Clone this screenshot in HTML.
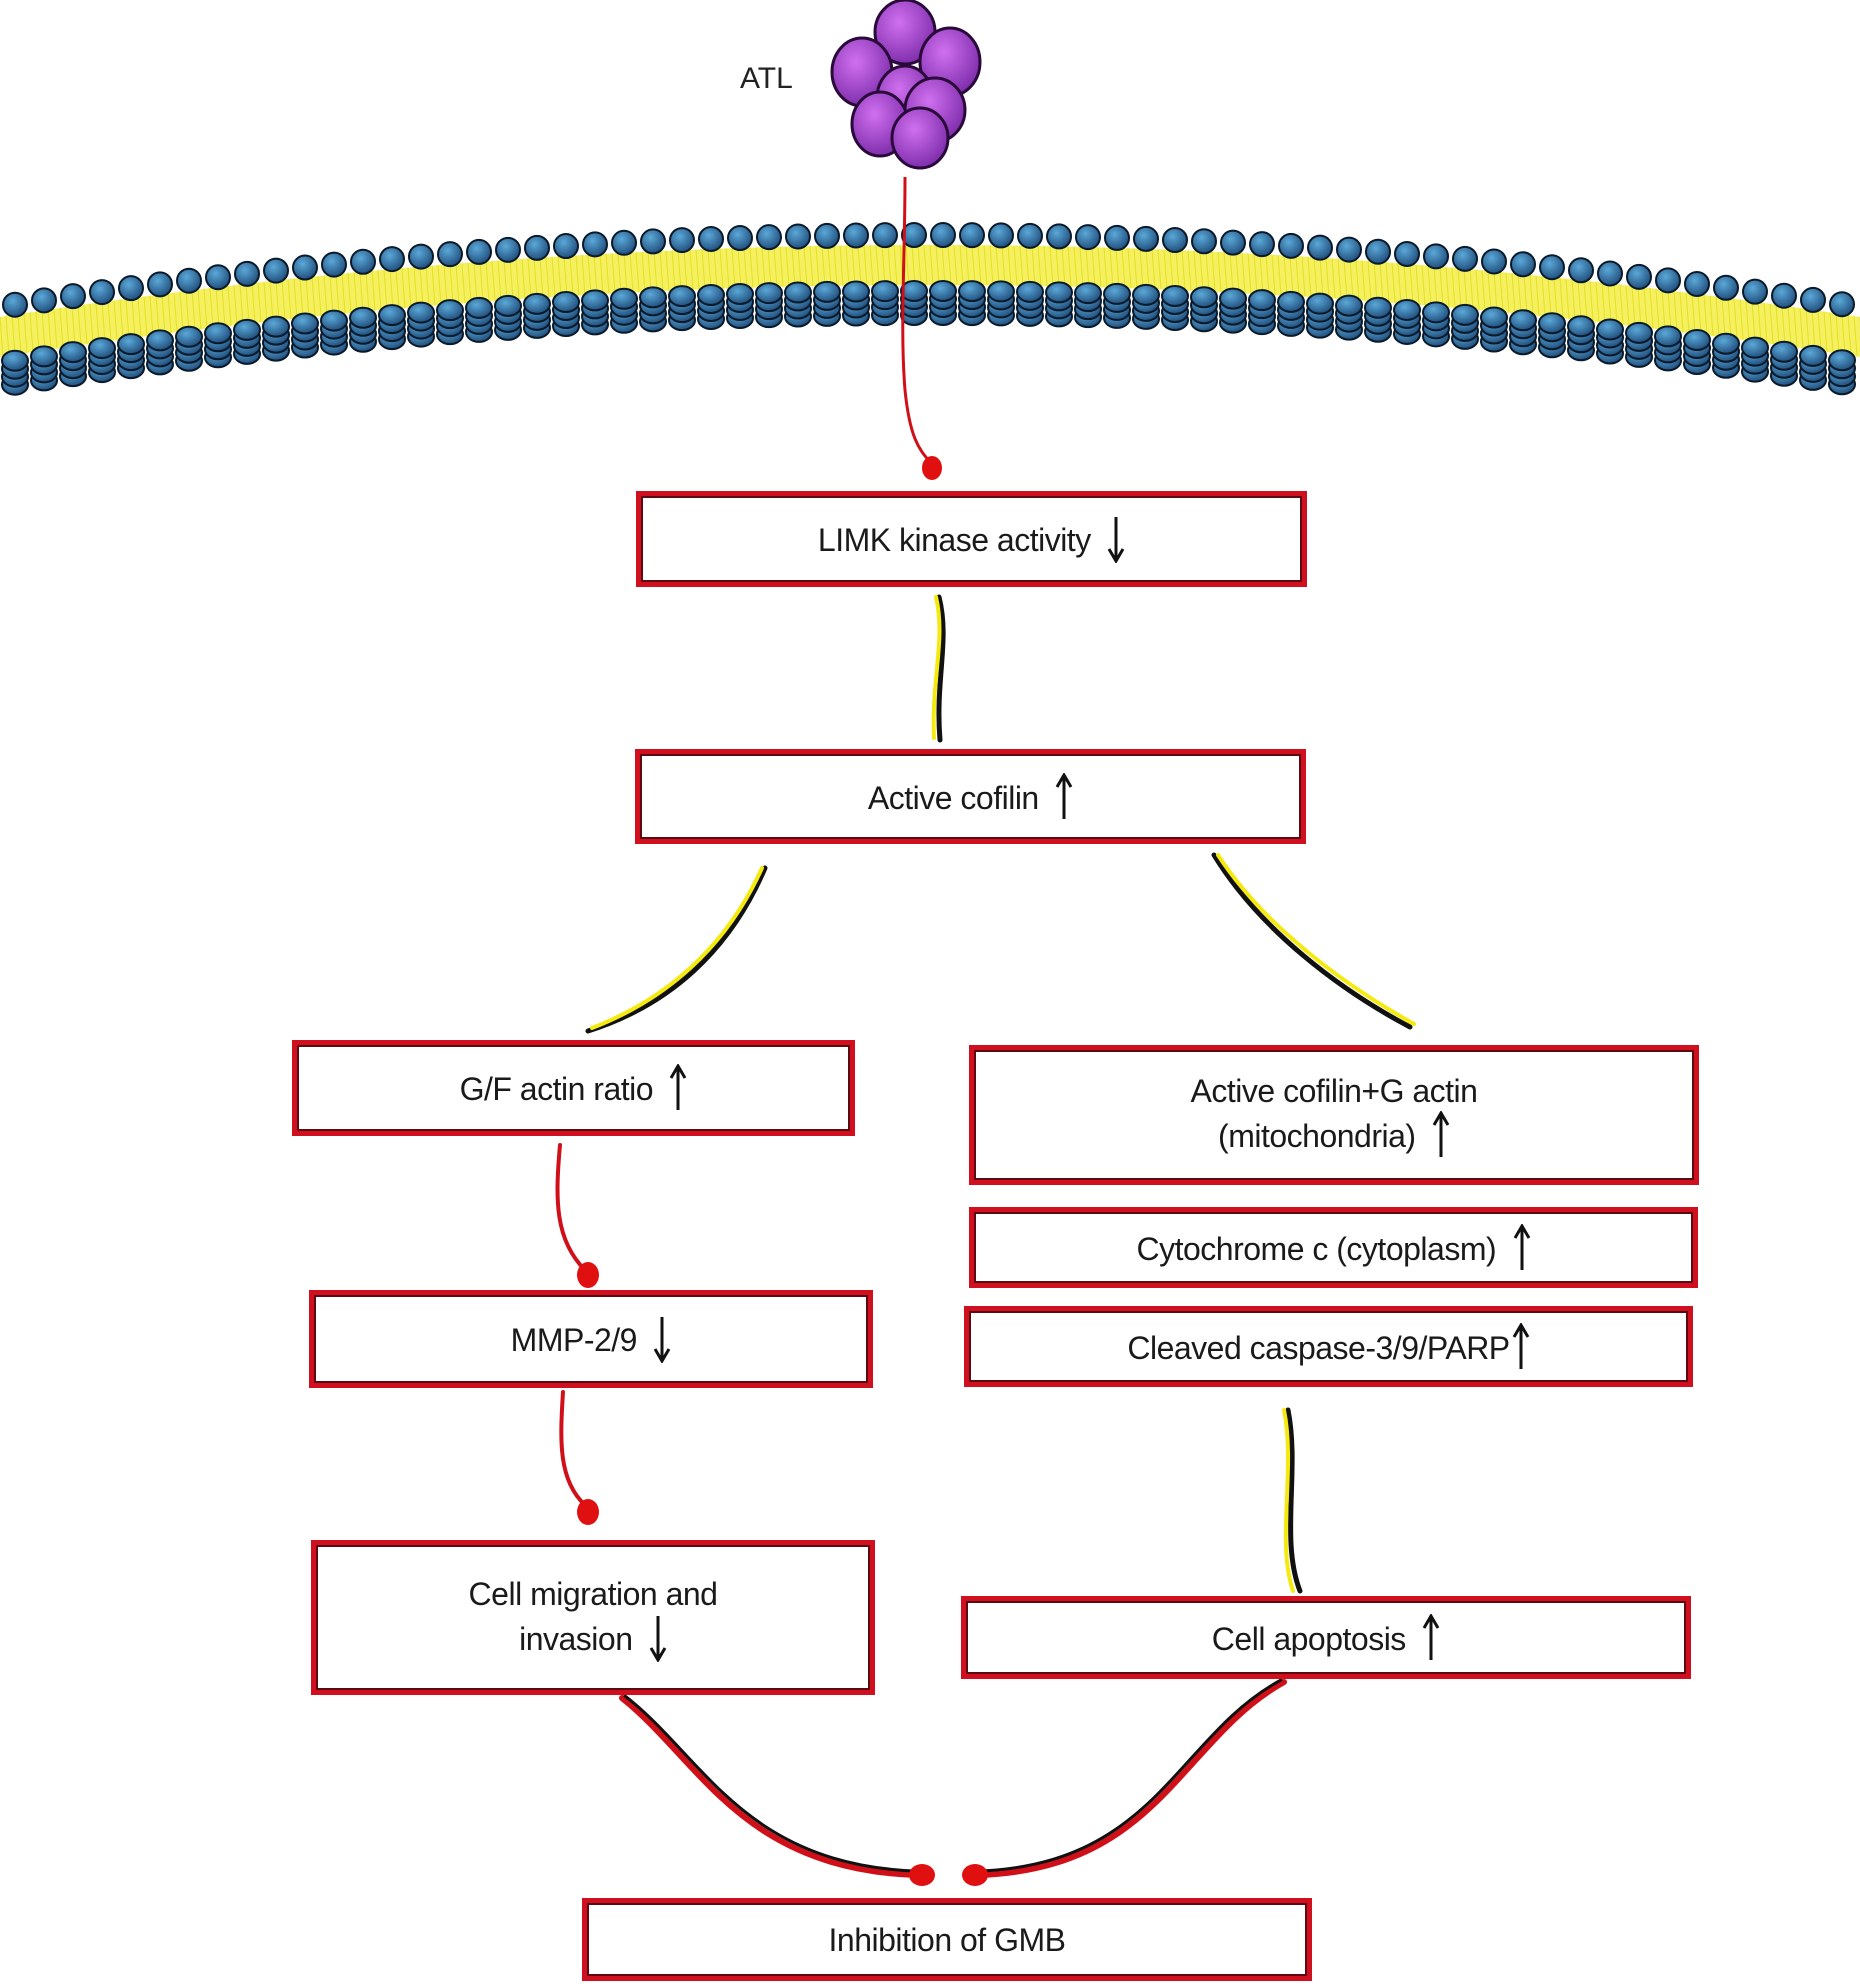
<!DOCTYPE html>
<html><head><meta charset="utf-8"><style>
html,body{margin:0;padding:0;background:#fff;}
body{width:1860px;height:1984px;position:relative;overflow:hidden;font-family:"Liberation Sans",Arial,sans-serif;}
svg.m{position:absolute;left:0;top:0;}
.b{position:absolute;box-sizing:border-box;border:5px solid #d0101e;box-shadow:inset 0 0 0 2px #5a0a10;background:#fff;display:flex;align-items:center;justify-content:center;text-align:center;font-size:32px;color:#1a1a1a;line-height:40px;letter-spacing:-0.5px;}
.b>div{text-align:center;}
.u,.d{display:inline-block;width:18px;height:48px;vertical-align:-12px;margin-left:8px;}
</style></head><body>
<svg class="m" width="1860" height="1984" viewBox="0 0 1860 1984">
<defs>
<radialGradient id="pg" cx="0.4" cy="0.35" r="0.7"><stop offset="0" stop-color="#d070f0"/><stop offset="1" stop-color="#7a2aa8"/></radialGradient>
<radialGradient id="bg" cx="0.4" cy="0.35" r="0.7"><stop offset="0" stop-color="#5aa8d8"/><stop offset="1" stop-color="#1e4a78"/></radialGradient>
</defs>
<g id="mem"></g>
<g stroke="#2a0a3a" stroke-width="3" fill="url(#pg)">
<ellipse cx="905" cy="32" rx="30" ry="32"/>
<ellipse cx="862" cy="72" rx="30" ry="34"/>
<ellipse cx="950" cy="62" rx="30" ry="34"/>
<ellipse cx="905" cy="98" rx="28" ry="32"/>
<ellipse cx="935" cy="110" rx="30" ry="32"/>
<ellipse cx="880" cy="124" rx="28" ry="32"/>
<ellipse cx="920" cy="138" rx="28" ry="30"/>
</g>
<text x="740" y="88" font-family="Liberation Sans" font-size="30" fill="#222">ATL</text>
<path d="M905 177 C905 260 900 330 905 390 C910 440 920 450 930 462" stroke="#d01018" stroke-width="3" fill="none"/>
<ellipse cx="932" cy="468" rx="10" ry="12" fill="#e01010"/>
<g fill="none" stroke-linecap="round">
<path d="M939 597 C950 640 935 680 940 740" stroke="#111" stroke-width="5"/>
<path d="M936 597 C946 640 931 680 934 738" stroke="#f5ea10" stroke-width="4"/>
<path d="M765 868 C730 950 670 1005 588 1031" stroke="#111" stroke-width="5"/>
<path d="M762 868 C726 948 665 1000 592 1028" stroke="#f5ea10" stroke-width="4"/>
<path d="M1214 855 C1260 930 1340 990 1410 1027" stroke="#111" stroke-width="5"/>
<path d="M1218 855 C1264 926 1344 985 1414 1024" stroke="#f5ea10" stroke-width="4"/>
<path d="M1288 1410 C1300 1470 1280 1540 1300 1591" stroke="#111" stroke-width="5"/>
<path d="M1284 1410 C1296 1470 1276 1540 1293 1591" stroke="#f5ea10" stroke-width="4"/>
</g>
<g fill="none" stroke-linecap="round">
<path d="M560 1145 C555 1200 555 1240 585 1270" stroke="#d01018" stroke-width="4"/>
<path d="M563 1392 C560 1440 558 1480 585 1505" stroke="#d01018" stroke-width="4"/>
<path d="M622 1698 C700 1760 740 1868 915 1875" stroke="#d01018" stroke-width="6"/>
<path d="M625 1696 C703 1756 743 1864 915 1871" stroke="#111" stroke-width="3"/>
<path d="M1284 1682 C1180 1740 1160 1868 980 1875" stroke="#d01018" stroke-width="6"/>
<path d="M1281 1680 C1177 1736 1157 1864 980 1871" stroke="#111" stroke-width="3"/>
</g>
<g fill="#e01010">
<ellipse cx="588" cy="1275" rx="11" ry="13"/>
<ellipse cx="588" cy="1512" rx="11" ry="13"/>
<ellipse cx="922" cy="1875" rx="13" ry="11"/>
<ellipse cx="975" cy="1875" rx="13" ry="11"/>
</g>
</svg>
<div class="b" style="left:636px;top:491px;width:671px;height:96px;"><div>LIMK kinase activity <svg class="d" viewBox="0 0 18 48"><path d="M9 2V44M2 34L9 46L16 34" stroke="#111" stroke-width="3" fill="none"/></svg></div></div>
<div class="b" style="left:635px;top:749px;width:671px;height:95px;"><div>Active cofilin <svg class="u" viewBox="0 0 18 48"><path d="M9 46V4M2 14L9 2L16 14" stroke="#111" stroke-width="3" fill="none"/></svg></div></div>
<div class="b" style="left:292px;top:1040px;width:563px;height:96px;"><div>G/F actin ratio <svg class="u" viewBox="0 0 18 48"><path d="M9 46V4M2 14L9 2L16 14" stroke="#111" stroke-width="3" fill="none"/></svg></div></div>
<div class="b" style="left:969px;top:1045px;width:730px;height:140px;"><div>Active cofilin+G actin<br>(mitochondria) <svg class="u" viewBox="0 0 18 48"><path d="M9 46V4M2 14L9 2L16 14" stroke="#111" stroke-width="3" fill="none"/></svg></div></div>
<div class="b" style="left:969px;top:1207px;width:729px;height:81px;"><div>Cytochrome c (cytoplasm) <svg class="u" viewBox="0 0 18 48"><path d="M9 46V4M2 14L9 2L16 14" stroke="#111" stroke-width="3" fill="none"/></svg></div></div>
<div class="b" style="left:964px;top:1306px;width:729px;height:81px;"><div>Cleaved caspase-3/9/PARP<svg class="u" style="margin-left:2px" viewBox="0 0 18 48"><path d="M9 46V4M2 14L9 2L16 14" stroke="#111" stroke-width="3" fill="none"/></svg></div></div>
<div class="b" style="left:309px;top:1290px;width:564px;height:98px;"><div>MMP-2/9 <svg class="d" viewBox="0 0 18 48"><path d="M9 2V44M2 34L9 46L16 34" stroke="#111" stroke-width="3" fill="none"/></svg></div></div>
<div class="b" style="left:311px;top:1540px;width:564px;height:155px;"><div>Cell migration and<br>invasion <svg class="d" viewBox="0 0 18 48"><path d="M9 2V44M2 34L9 46L16 34" stroke="#111" stroke-width="3" fill="none"/></svg></div></div>
<div class="b" style="left:961px;top:1596px;width:730px;height:83px;"><div>Cell apoptosis <svg class="u" viewBox="0 0 18 48"><path d="M9 46V4M2 14L9 2L16 14" stroke="#111" stroke-width="3" fill="none"/></svg></div></div>
<div class="b" style="left:582px;top:1898px;width:730px;height:83px;"><div>Inhibition of GMB</div></div>
<script>
(function(){
var g=document.getElementById('mem'),h='';
function y(x){return 235+72*Math.pow((x-930)/930,2);}
var p='M0 '+(y(0)+10);
for(var x=0;x<=1860;x+=20){p+=' L'+x+' '+(y(x)+10);}
for(var x=1860;x>=0;x-=20){p+=' L'+x+' '+(y(x)+50);}
h+='<path d="'+p+'Z" fill="#f4f060"/>';
for(var x=0;x<=1860;x+=6){h+='<line x1="'+x+'" y1="'+(y(x)+10)+'" x2="'+(x+3)+'" y2="'+(y(x)+50)+'" stroke="#e8e020" stroke-width="1"/>';}
for(var x=15;x<1860;x+=29){
 var yy=y(x);
 for(var k=3;k>=0;k--){h+='<ellipse cx="'+x+'" cy="'+(yy+56+k*8)+'" rx="13" ry="10" fill="url(#bg)" stroke="#0a1a2a" stroke-width="2"/>';}
 h+='<circle cx="'+x+'" cy="'+yy+'" r="12" fill="url(#bg)" stroke="#0a1a2a" stroke-width="2"/>';
}
g.innerHTML=h;
})();
</script>
</body></html>
